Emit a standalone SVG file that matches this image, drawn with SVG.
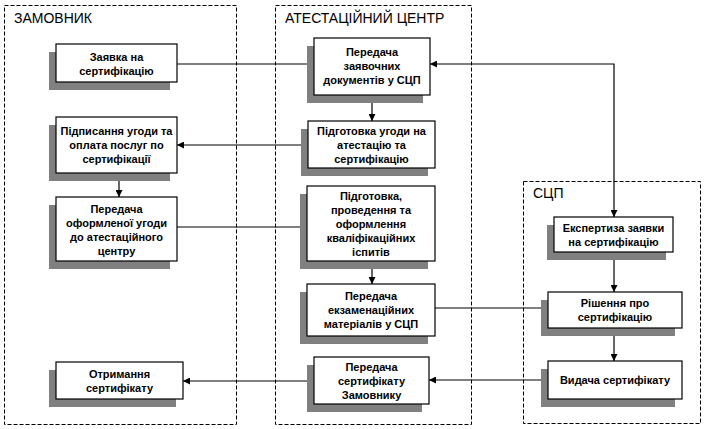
<svg xmlns="http://www.w3.org/2000/svg" width="705" height="429" viewBox="0 0 705 429">
<style>
.lane{fill:none;stroke:#000;stroke-width:1;stroke-dasharray:4,2}
.title{font-family:"Liberation Sans",Arial,sans-serif;font-size:14px;fill:#000}
.sh{fill:#808080}
.bx{fill:#fff;stroke:#000;stroke-width:1.2}
.t{font-family:"Liberation Sans",Arial,sans-serif;font-size:11px;font-weight:bold;fill:#000;text-anchor:middle}
.c{fill:none;stroke:#000;stroke-width:1.2}
</style>
<defs>
<marker id="ah" viewBox="0 0 10 10" refX="10" refY="5" markerWidth="7" markerHeight="7" markerUnits="userSpaceOnUse" orient="auto-start-reverse">
<path d="M0,0 L10,5 L0,10 z" fill="#000"/>
</marker>
</defs>
<rect fill="#fff" width="705" height="429"/>
<g id="lanes">
<rect class="lane" x="4.5" y="5.5" width="232" height="419"/>
<text class="title" x="14" y="23">ЗАМОВНИК</text>
<rect class="lane" x="275.5" y="5.5" width="196" height="419"/>
<text class="title" x="285" y="23">АТЕСТАЦІЙНИЙ ЦЕНТР</text>
<rect class="lane" x="523.5" y="181.5" width="177" height="242"/>
<text class="title" x="533" y="198">СЦП</text>
</g>
<g id="connectors">
<line class="c" x1="177" y1="64" x2="314" y2="64" marker-end="url(#ah)"/>
<line class="c" x1="372" y1="95" x2="372" y2="121" marker-end="url(#ah)"/>
<line class="c" x1="308" y1="145" x2="177" y2="145" marker-end="url(#ah)"/>
<line class="c" x1="119" y1="173" x2="119" y2="197" marker-end="url(#ah)"/>
<line class="c" x1="177" y1="227" x2="307" y2="227" marker-end="url(#ah)"/>
<line class="c" x1="372" y1="261" x2="372" y2="284" marker-end="url(#ah)"/>
<line class="c" x1="435" y1="308" x2="548" y2="308" marker-end="url(#ah)"/>
<polyline class="c" points="430,64 614,64 614,217" marker-start="url(#ah)" marker-end="url(#ah)"/>
<line class="c" x1="614" y1="252" x2="614" y2="292" marker-end="url(#ah)"/>
<line class="c" x1="614" y1="328" x2="614" y2="361" marker-end="url(#ah)"/>
<line class="c" x1="548" y1="380" x2="429" y2="380" marker-end="url(#ah)"/>
<line class="c" x1="314" y1="381" x2="183" y2="381" marker-end="url(#ah)"/>
</g>
<g id="n1">
<rect class="sh" x="49" y="52" width="121" height="38"/>
<rect class="bx" x="56" y="44" width="121" height="38"/>
<text class="t" x="116.5" y="61">Заявка на</text>
<text class="t" x="116.5" y="75">сертифікацію</text>
</g>
<g id="n2">
<rect class="sh" x="49" y="125" width="121" height="56"/>
<rect class="bx" x="56" y="117" width="121" height="56"/>
<text class="t" x="116.5" y="135">Підписання угоди та</text>
<text class="t" x="116.5" y="149">оплата послуг по</text>
<text class="t" x="116.5" y="163">сертифікації</text>
</g>
<g id="n3">
<rect class="sh" x="49" y="205" width="121" height="64"/>
<rect class="bx" x="56" y="197" width="121" height="64"/>
<text class="t" x="116.5" y="213">Передача</text>
<text class="t" x="116.5" y="227">оформленої угоди</text>
<text class="t" x="116.5" y="241">до атестаційного</text>
<text class="t" x="116.5" y="255">центру</text>
</g>
<g id="n4">
<rect class="sh" x="49" y="370" width="127" height="37"/>
<rect class="bx" x="56" y="362" width="127" height="37"/>
<text class="t" x="119.5" y="378">Отримання</text>
<text class="t" x="119.5" y="392">сертифікату</text>
</g>
<g id="n5">
<rect class="sh" x="307" y="46" width="116" height="57"/>
<rect class="bx" x="314" y="38" width="116" height="57"/>
<text class="t" x="372" y="56">Передача</text>
<text class="t" x="372" y="70">заявочних</text>
<text class="t" x="372" y="84">документів у СЦП</text>
</g>
<g id="n6">
<rect class="sh" x="301" y="129" width="127" height="47"/>
<rect class="bx" x="308" y="121" width="127" height="47"/>
<text class="t" x="371.5" y="135">Підготовка угоди на</text>
<text class="t" x="371.5" y="149">атестацію та</text>
<text class="t" x="371.5" y="163">сертифікацію</text>
</g>
<g id="n7">
<rect class="sh" x="300" y="194" width="128" height="75"/>
<rect class="bx" x="307" y="186" width="128" height="75"/>
<text class="t" x="371" y="200">Підготовка,</text>
<text class="t" x="371" y="214">проведення та</text>
<text class="t" x="371" y="228">оформлення</text>
<text class="t" x="371" y="242">кваліфікаційних</text>
<text class="t" x="371" y="256">іспитів</text>
</g>
<g id="n8">
<rect class="sh" x="300" y="292" width="128" height="52"/>
<rect class="bx" x="307" y="284" width="128" height="52"/>
<text class="t" x="371" y="300">Передача</text>
<text class="t" x="371" y="314">екзаменаційних</text>
<text class="t" x="371" y="328">матеріалів у СЦП</text>
</g>
<g id="n9">
<rect class="sh" x="307" y="365" width="115" height="47"/>
<rect class="bx" x="314" y="357" width="115" height="47"/>
<text class="t" x="371.5" y="371">Передача</text>
<text class="t" x="371.5" y="385">сертифікату</text>
<text class="t" x="371.5" y="399">Замовнику</text>
</g>
<g id="n10">
<rect class="sh" x="547" y="225" width="119" height="35"/>
<rect class="bx" x="554" y="217" width="119" height="35"/>
<text class="t" x="613.5" y="232">Експертиза заявки</text>
<text class="t" x="613.5" y="246">на сертифікацію</text>
</g>
<g id="n11">
<rect class="sh" x="541" y="300" width="134" height="36"/>
<rect class="bx" x="548" y="292" width="134" height="36"/>
<text class="t" x="615" y="307">Рішення про</text>
<text class="t" x="615" y="321">сертифікацію</text>
</g>
<g id="n12">
<rect class="sh" x="541" y="369" width="134" height="38"/>
<rect class="bx" x="548" y="361" width="134" height="38"/>
<text class="t" x="615" y="384">Видача сертифікату</text>
</g>
</svg>
